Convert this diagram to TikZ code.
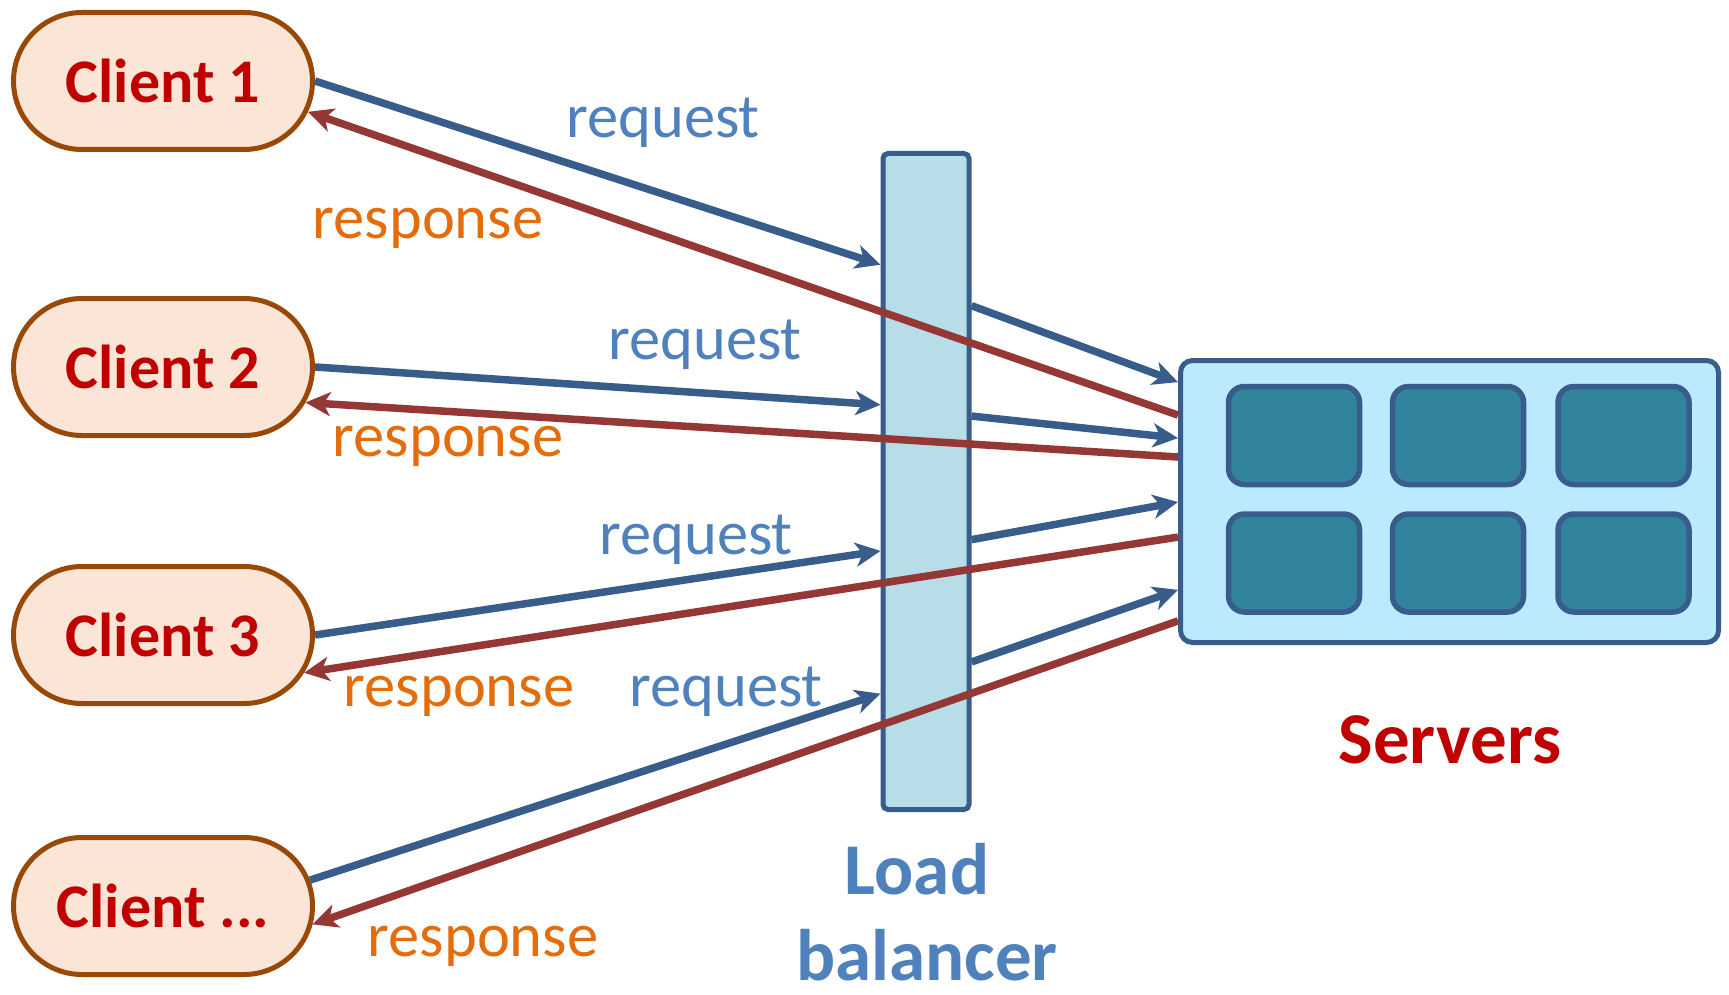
\documentclass[tikz,border=0pt]{standalone}
\usepackage{fontspec}
\setmainfont{Carlito}
\usetikzlibrary{arrows.meta,shapes.misc,calc}

\definecolor{clientfill}{HTML}{FBE5D6}
\definecolor{clientline}{HTML}{984807}
\definecolor{darkred}{HTML}{C00000}
\definecolor{reqline}{HTML}{385D8A}
\definecolor{respline}{HTML}{953735}
\definecolor{reqtext}{HTML}{4F81BD}
\definecolor{resptext}{HTML}{E46C0A}
\definecolor{lbfill}{HTML}{B7DDE8}
\definecolor{srvfill}{HTML}{BBE9FD}
\definecolor{unitfill}{HTML}{31849B}

\begin{document}
\begin{tikzpicture}[x=1pt, y=-1pt,
  client/.style={rounded rectangle, draw=clientline, fill=clientfill, line width=5pt,
    minimum width=299pt, minimum height=137pt, inner sep=0pt,
    text=darkred, font=\fontsize{62}{74}\selectfont\bfseries},
  lbbox/.style={draw=reqline, fill=lbfill, line width=5pt, rounded corners=5pt,
    minimum width=86pt, minimum height=656pt, inner sep=0pt},
  srvbox/.style={draw=reqline, fill=srvfill, line width=5pt, rounded corners=12pt,
    minimum width=538pt, minimum height=282pt, inner sep=0pt},
  unit/.style={draw=reqline, fill=unitfill, line width=5.5pt, rounded corners=16pt,
    minimum width=131pt, minimum height=98pt, inner sep=0pt},
  tip/.style={-{Stealth[length=25pt, width=24pt, inset=7pt]}},
  req/.style={draw=reqline, line width=7.5pt, tip},
  resp/.style={draw=respline, line width=7.5pt, tip},
  reqlabel/.style={anchor=base, inner sep=0pt, text=reqtext, font=\fontsize{62.5}{75}\selectfont},
  resplabel/.style={anchor=base, inner sep=0pt, text=resptext, font=\fontsize{62.5}{75}\selectfont},
  heading/.style={anchor=base, inner sep=0pt, font=\fontsize{73}{88}\selectfont\bfseries}
]
\useasboundingbox (0,0) rectangle (1729,995);

% clients
\node[client] (c1) at (163,81)  {Client 1};
\node[client] (c2) at (163,367) {Client 2};
\node[client] (c3) at (163,635) {Client 3};
\node[client] (c4) at (163,906) {Client ...};

% load balancer
\node[lbbox] (lb) at (926,481.5) {};
\node[heading, text=reqtext] (lbl1) at (917,894) {Load};
\node[heading, text=reqtext] (lbl2) at (927,980) {balancer};

% server farm
\node[srvbox] (srv) at (1449.5,501.5) {};
\foreach \cx/\col in {1294/a,1458/b,1623.5/c}
  \foreach \cy/\row in {435.5/1,563/2}
    \node[unit] (u\col\row) at (\cx,\cy) {};
\node[heading, text=darkred] (srvlbl) at (1450,763) {Servers};

% connection points on the load balancer and the server box
\foreach \i/\fin/\fout in {1/0.172/0.234, 2/0.384/0.401, 3/0.605/0.588, 4/0.821/0.773} {
  \coordinate (lbin\i)  at ($(lb.north west)!\fin!(lb.south west)$);
  \coordinate (lbout\i) at ($(lb.north east)!\fout!(lb.south east)$);
}
\foreach \i/\fin/\fback in {1/0.084/0.199, 2/0.279/0.345, 3/0.502/0.624, 4/0.808/0.916} {
  \coordinate (srvin\i)   at ($(srv.north west)!\fin!(srv.south west)$);
  \coordinate (srvback\i) at ($(srv.north west)!\fback!(srv.south west)$);
}

% requests: client -> load balancer -> server
\draw[req] (c1.east) -- (lbin1);
\draw[req] (c2.east) -- (lbin2);
\draw[req] (c3.east) -- (lbin3);
\draw[req] (c4.10)   -- (lbin4);
\foreach \i in {1,...,4}
  \draw[req] (lbout\i) -- (srvin\i);

% responses: server -> client
\draw[resp] (srvback1) -- (c1.-12);
\draw[resp] (srvback2) -- (c2.-14);
\draw[resp] (srvback3) -- (c3.-15);
\draw[resp] (srvback4) -- (c4.-7);

% labels
\node[reqlabel]  (rq1) at (663,138) {request};
\node[resplabel] (rs1) at (428,238) {response};
\node[reqlabel]  (rq2) at (705,359) {request};
\node[resplabel] (rs2) at (448,456) {response};
\node[reqlabel]  (rq3) at (696,554) {request};
\node[resplabel] (rs3) at (459,706) {response};
\node[reqlabel]  (rq4) at (726,706) {request};
\node[resplabel] (rs4) at (483,956) {response};
\end{tikzpicture}
\end{document}
